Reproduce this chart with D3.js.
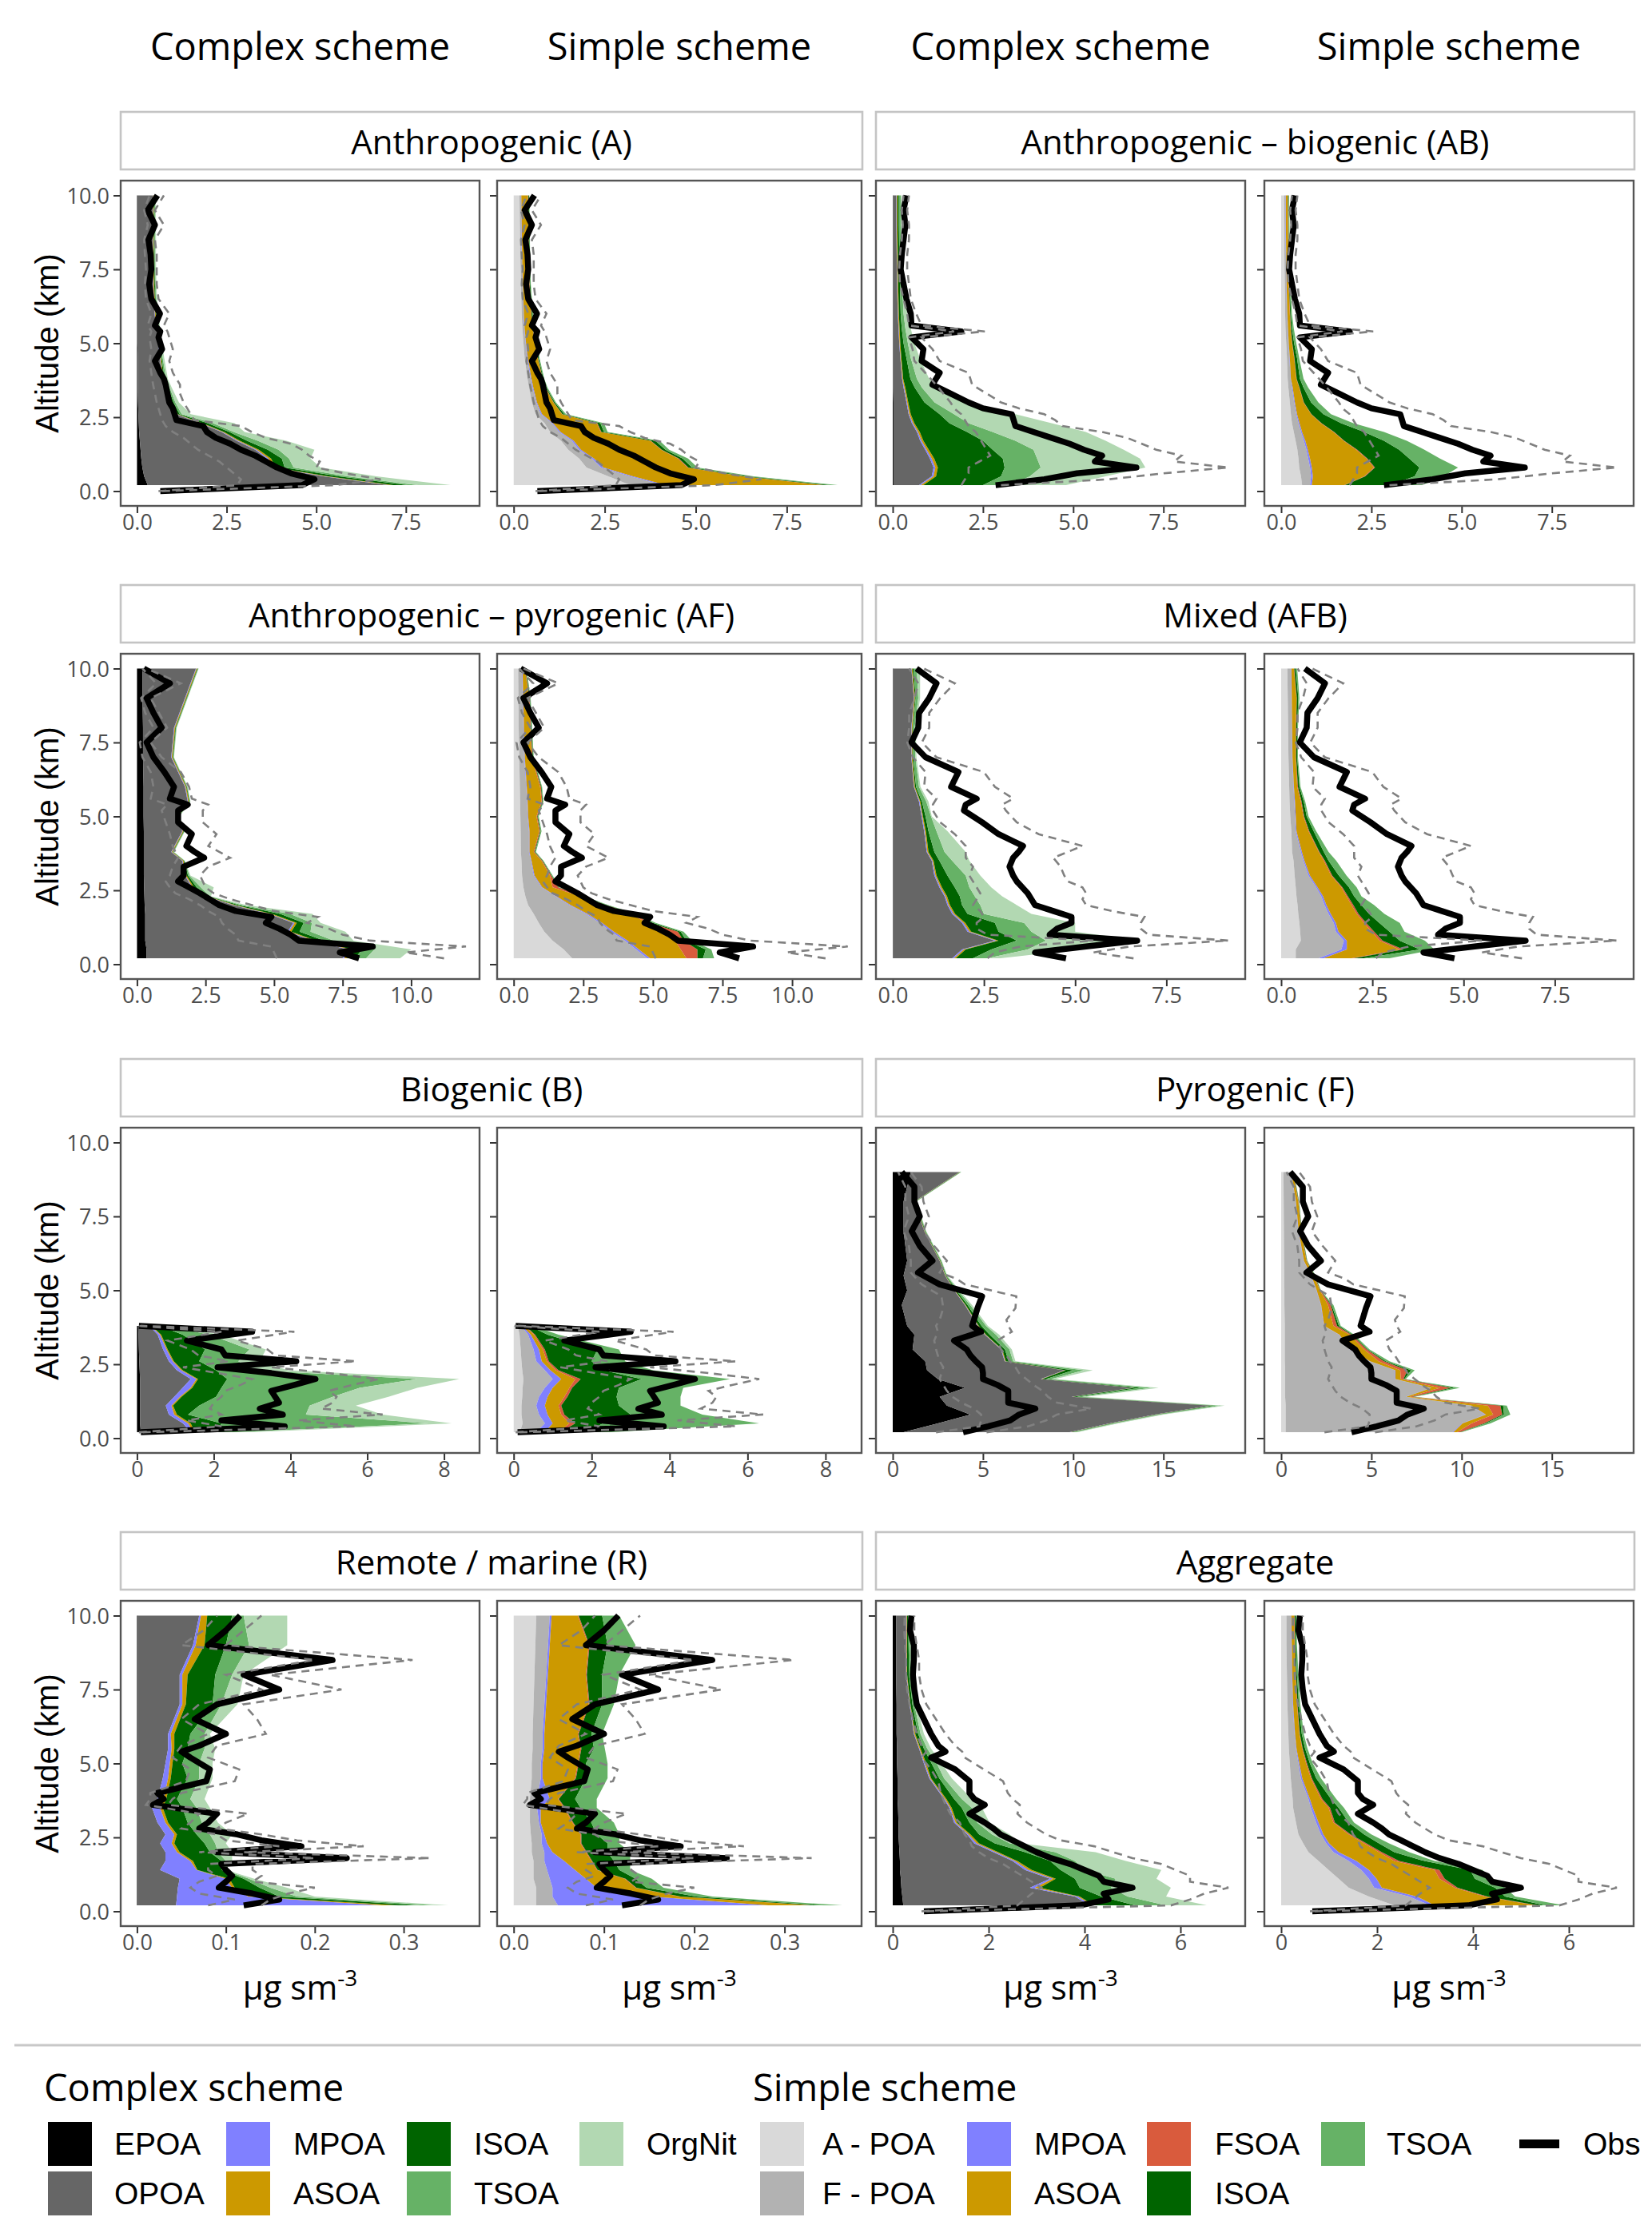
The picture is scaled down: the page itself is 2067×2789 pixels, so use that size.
<!DOCTYPE html>
<html>
<head>
<meta charset="utf-8">
<script src="https://cdn.jsdelivr.net/npm/d3@7"></script>
<style>
  body { margin: 0; background: #fff; }
  svg text { font-family: "Open Sans", "Noto Sans", sans-serif; }
</style>
</head>
<body>
<svg id="chart" width="2067" height="2789"></svg>
<script>
// Perfiles verticales de AOS: esquema complejo vs. simple, por tipo de campaña

// Niveles de altitud (km) del modelo y de las observaciones
const ALT_MODEL = [0.2, 0.5, 0.8, 1.1, 1.4, 1.7, 2.0, 2.3, 2.6, 3.0, 3.5, 3.8, 4.5, 5.0, 5.5, 6.0, 7.0, 8.0, 9.0, 10.0];
const ALT_OBS = [0.0, 0.2, 0.4, 0.6, 0.8, 1.0, 1.2, 1.4, 1.6, 1.8, 2.0, 2.2, 2.4, 2.6, 2.8, 3.0, 3.3, 3.6, 3.8, 4.0,
  4.4, 4.8, 5.2, 5.4, 5.6, 6.0, 6.5, 7.0, 7.5, 8.0, 8.5, 9.0, 9.5, 10.0];

const COMPLEX_KEYS = ["EPOA", "OPOA", "MPOA", "ASOA", "ISOA", "TSOA", "OrgNit"];
const SIMPLE_KEYS = ["A - POA", "F - POA", "MPOA", "ASOA", "FSOA", "ISOA", "TSOA"];
const COMPLEX_COLORS = ["#000000", "#666666", "#8080ff", "#cc9900", "#006400", "#66b266", "#b2d8b2"];
const SIMPLE_COLORS = ["#d9d9d9", "#b2b2b2", "#8080ff", "#cc9900", "#d95b3d", "#006400", "#66b266"];

// Filas = niveles de ALT_MODEL, columnas = componentes (µg sm-3)
const A_COMPLEX = [
  [.3, 6.7, .05, .1, .4, .3, .9], [.2, 5.0, .05, .08, .3, .25, .8], [.15, 3.6, .05, .07, .25, .25, .75],
  [.12, 3.5, .05, .07, .3, .2, .6], [.1, 3.2, .04, .06, .25, .3, 1.0], [.08, 2.7, .04, .05, .2, .3, .8],
  [.06, 2.3, .03, .04, .15, .12, .3], [.05, 1.7, .03, .04, .15, .15, .6], [.04, 1.05, .02, .03, .05, .06, .25],
  [.03, .9, .02, .03, .04, .05, .1], [.02, .78, .02, .02, .03, .04, .06], [.02, .68, .02, .02, .03, .04, .05],
  [.02, .62, .01, .02, .02, .03, .04], [.01, .58, .01, .02, .02, .03, .03], [.01, .53, .01, .02, .02, .03, .03],
  [.01, .48, .01, .02, .02, .02, .03], [.01, .44, .01, .02, .02, .02, .02], [.01, .43, .01, .02, .02, .02, .02],
  [.01, .43, .01, .02, .02, .02, .02], [.01, .43, .01, .02, .01, .02, .02]
];
const A_SIMPLE = [
  [3.2, .9, .1, 4.3, .05, .15, .2], [2.6, .6, .08, 3.0, .04, .12, .15], [2.0, .4, .07, 2.3, .03, .1, .15],
  [1.8, .35, .06, 2.3, .03, .1, .15], [1.5, .3, .05, 2.2, .02, .1, .1], [1.3, .3, .05, 2.1, .02, .12, .12],
  [1.0, .25, .04, 1.1, .02, .07, .1], [.85, .2, .03, 1.2, .02, .08, .1], [.6, .15, .03, .55, .01, .05, .05],
  [.5, .12, .02, .45, .01, .03, .03], [.42, .1, .02, .33, .01, .02, .03], [.38, .09, .02, .3, .01, .02, .02],
  [.3, .07, .02, .27, .01, .02, .02], [.27, .06, .01, .25, .01, .02, .02], [.24, .05, .01, .22, .01, .02, .02],
  [.22, .05, .01, .2, .01, .02, .02], [.2, .04, .01, .18, .01, .02, .01], [.18, .04, .01, .18, .01, .02, .01],
  [.17, .04, .01, .18, .01, .02, .01], [.16, .04, .01, .18, .01, .02, .01]
];
const A_OBS = [0.65, 4.6, 4.95, 4.3, 3.9, 3.6, 3.3, 2.9, 2.6, 2.2, 1.95, 1.85, 1.1, 1.05, 1.0, 0.9, 0.85, 0.8, 0.75,
  0.65, 0.5, 0.7, 0.6, 0.65, 0.5, 0.64, 0.4, 0.34, 0.4, 0.38, 0.32, 0.5, 0.3, 0.57];
const A_OBS_HI = [0.7, 5.5, 6.8, 5.8, 5.0, 5.1, 4.8, 4.6, 4.3, 3.6, 3.2, 2.9, 1.6, 1.5, 1.4, 1.3, 1.2, 1.2, 1.1,
  1.0, 0.9, 1.0, 0.9, 0.85, 0.75, 0.9, 0.6, 0.55, 0.55, 0.55, 0.5, 0.75, 0.5, 0.75];
const A_OBS_LO = [0.6, 2.8, 2.9, 2.7, 2.5, 2.3, 2.0, 1.7, 1.5, 1.3, 1.0, 0.8, 0.7, 0.65, 0.6, 0.55, 0.5, 0.45, 0.42,
  0.4, 0.35, 0.4, 0.35, 0.4, 0.3, 0.4, 0.25, 0.22, 0.25, 0.22, 0.2, 0.3, 0.2, 0.35];

const AB_COMPLEX = [
  [.02, .71, .05, .07, 1.65, .75, 1.55], [.02, 1.06, .05, .07, 1.8, .8, 2.1], [.02, 1.11, .05, .07, 1.85, 1.0, 2.9],
  [.02, 1.01, .05, .07, 1.9, .95, 2.85], [.02, .88, .04, .06, 1.77, 1.13, 2.5], [.02, .74, .04, .05, 1.65, .9, 2.5],
  [.02, .65, .03, .05, 1.31, .71, 2.58], [.02, .51, .03, .04, .97, .53, 2.3], [.02, .42, .02, .04, .8, .4, 1.7],
  [.02, .36, .02, .03, .45, .28, .95], [.01, .29, .02, .03, .26, .2, .5], [.01, .25, .01, .02, .2, .18, .34],
  [.01, .2, .01, .02, .14, .12, .25], [.01, .17, .01, .02, .09, .12, .18], [.01, .15, .01, .02, .06, .1, .15],
  [.01, .13, .01, .02, .05, .08, .1], [.01, .11, .01, .02, .05, .06, .06], [.01, .1, .01, .02, .04, .06, .04],
  [.01, .09, .01, .02, .04, .05, .04], [.01, .09, .01, .02, .04, .05, .03]
];
const AB_SIMPLE = [
  [.58, .22, .05, .9, .02, 1.23, .9], [.55, .28, .05, 1.42, .03, 1.37, .8], [.5, .3, .05, 1.72, .03, 1.23, 1.07],
  [.48, .27, .05, 1.56, .03, 1.16, .85], [.45, .25, .04, 1.34, .03, 1.16, .7], [.4, .23, .04, 1.06, .02, 1.1, .63],
  [.35, .2, .03, .87, .02, .83, .55], [.3, .18, .03, .59, .02, .54, .34], [.27, .15, .02, .39, .01, .33, .21],
  [.24, .12, .02, .24, .01, .2, .2], [.2, .1, .02, .18, .01, .11, .13], [.18, .08, .01, .15, .01, .09, .1],
  [.16, .07, .01, .12, .01, .07, .06], [.14, .06, .01, .09, .01, .05, .06], [.12, .06, .01, .07, .01, .03, .05],
  [.11, .05, .01, .07, .01, .02, .03], [.1, .04, .01, .06, .01, .02, .02], [.09, .04, .01, .06, .01, .01, .02],
  [.09, .03, .01, .06, .01, .01, .02], [.08, .04, .01, .05, .01, .01, .02]
];
const AB_OBS = [null, 2.85, 4.2, 5.1, 6.75, 5.6, 5.8, 5.3, 4.9, 4.4, 3.9, 3.4, 3.35, 3.3, 2.5, 2.1, 1.6, 1.1, 1.2,
  1.3, 0.8, 0.85, 0.52, 1.9, 0.52, 0.5, 0.38, 0.3, 0.22, 0.25, 0.3, 0.35, 0.3, 0.38];
const AB_OBS_HI = [null, 3.0, 6.0, 7.5, 9.3, 7.8, 8.0, 7.3, 6.9, 6.5, 5.8, 4.7, 4.5, 4.2, 3.5, 3.0, 2.6, 2.2, 2.15,
  2.1, 1.3, 1.1, 0.8, 2.55, 0.8, 0.65, 0.5, 0.45, 0.4, 0.4, 0.45, 0.45, 0.4, 0.45];
const AB_OBS_LO = [null, 1.9, 2.0, 2.1, 2.1, 2.4, 2.7, 2.6, 2.5, 2.4, 2.3, 2.1, 2.0, 1.9, 1.7, 1.6, 1.4, 1.2, 1.05,
  0.9, 0.6, 0.55, 0.45, 1.7, 0.45, 0.4, 0.3, 0.2, 0.18, 0.2, 0.25, 0.28, 0.25, 0.3];

const AF_COMPLEX = [
  [.35, 7.15, .06, .1, .3, .4, 1.24], [.35, 7.35, .06, .1, .35, .45, 1.34], [.3, 6.1, .05, .08, .3, .35, .72],
  [.3, 5.2, .05, .08, .3, .4, 1.27], [.3, 5.4, .05, .08, .25, .3, .32], [.3, 4.5, .05, .08, .3, .35, .82],
  [.28, 3.22, .04, .06, .12, .12, .16], [.27, 2.23, .03, .04, .04, .05, .04], [.26, 1.74, .03, .05, .1, .15, .47],
  [.25, 1.5, .02, .04, .05, .05, .04], [.25, 1.4, .02, .03, .02, .02, .01], [.25, 1.0, .02, .03, .02, .02, .01],
  [.25, 1.4, .02, .03, .02, .02, .01], [.24, 1.21, .02, .03, .02, .02, .01], [.24, 1.61, .02, .03, .02, .02, .01],
  [.24, 1.51, .02, .03, .02, .02, .01], [.22, 1.03, .02, .03, .02, .02, .01], [.22, 1.13, .02, .03, .02, .02, .01],
  [.2, 1.55, .02, .03, .02, .02, .01], [.2, 1.95, .02, .03, .02, .02, .01]
];
const AF_SIMPLE = [
  [2.1, 2.7, .1, 1.3, .4, .2, .4], [1.8, 2.6, .1, 1.5, .6, .3, .2], [1.4, 2.6, .1, 1.7, .3, .1, .2],
  [1.1, 2.4, .1, 1.8, .5, .1, .1], [.9, 2.2, .08, 1.62, .1, .1, .1], [.72, 1.88, .06, 1.54, .1, .05, .05],
  [.52, 1.48, .05, 1.15, .1, .05, .05], [.42, 1.08, .04, .86, .05, .05, .05], [.35, .65, .03, .37, .2, .02, .03],
  [.3, .42, .03, .55, .05, .02, .03], [.28, .34, .02, .36, .03, .02, .02], [.26, .29, .02, .15, .03, .02, .03],
  [.25, .3, .02, .35, .03, .02, .03], [.24, .26, .02, .3, .03, .02, .03], [.23, .25, .02, .5, .03, .02, .02],
  [.22, .23, .02, .48, .03, .02, .02], [.2, .18, .02, .25, .03, .02, .02], [.18, .17, .02, .23, .02, .02, .02],
  [.17, .15, .02, .21, .02, .02, .02], [.16, .14, .02, .08, .02, .02, .02]
];
const AF_OBS = [null, 8.1, 7.4, 8.6, 5.9, 5.6, 5.2, 4.7, 4.9, 3.6, 3.0, 2.65, 2.3, 1.9, 1.5, 1.7, 1.7, 2.45, 2.1,
  1.8, 2.0, 1.5, 1.5, 1.85, 1.2, 1.35, 1.0, 0.6, 0.35, 0.9, 0.6, 0.35, 1.2, 0.25];
const AF_OBS_HI = [null, 11.2, 9.8, 12.0, 8.5, 7.5, 7.0, 6.2, 6.6, 5.0, 4.2, 3.4, 2.8, 2.5, 2.4, 2.3, 2.6, 3.4, 3.0,
  2.6, 2.9, 2.4, 2.4, 2.6, 2.0, 1.9, 1.6, 0.9, 0.5, 1.1, 0.8, 0.5, 1.6, 0.35];
const AF_OBS_LO = [null, 5.1, 5.0, 4.9, 3.7, 3.6, 3.3, 3.1, 3.0, 2.6, 2.3, 1.9, 1.4, 1.2, 1.05, 1.2, 1.3, 1.5, 1.4,
  1.3, 1.2, 1.05, 0.9, 1.1, 0.5, 0.6, 0.5, 0.2, 0.1, 0.6, 0.3, 0.15, 0.7, 0.2];

const AFB_COMPLEX = [
  [.01, 1.62, .05, .05, .47, .4, .35], [.01, 1.89, .05, .05, .7, 1.0, 1.4], [.01, 2.79, .05, .05, .5, .8, 2.6],
  [.01, 2.04, .05, .05, .75, .9, 1.2], [.01, 1.89, .04, .05, .81, .8, 1.4], [.01, 1.62, .04, .04, .34, .45, 1.3],
  [.01, 1.49, .03, .04, .33, .5, 1.0], [.01, 1.41, .03, .04, .35, .41, .75], [.01, 1.27, .03, .04, .35, .4, .6],
  [.01, 1.13, .03, .03, .3, .5, .4], [.01, 1.06, .02, .03, .16, .35, .47], [.01, .92, .02, .03, .16, .28, .58],
  [.01, .85, .02, .03, .07, .22, .3], [.01, .78, .02, .02, .07, .15, .02], [.01, .71, .02, .02, .04, .12, .06],
  [.01, .57, .01, .02, .03, .08, .04], [.01, .5, .01, .02, .02, .06, .03], [.01, .5, .01, .02, .01, .05, .03],
  [.01, .57, .01, .02, .02, .07, .05], [.01, .5, .01, .02, .03, .09, .09]
];
const AFB_SIMPLE = [
  [.4, .63, .14, .76, .07, .27, .7], [.4, 1.25, .15, 1.45, .1, .45, .4], [.54, 1.18, .08, .9, .08, .47, .69],
  [.52, .98, .07, .91, .07, .42, .41], [.5, .94, .06, .77, .06, .36, .56], [.47, .83, .06, .71, .05, .29, .42],
  [.45, .74, .05, .69, .05, .22, .35], [.42, .68, .05, .64, .04, .17, .2], [.4, .56, .04, .65, .03, .18, .21],
  [.37, .38, .04, .58, .03, .18, .21], [.34, .27, .03, .53, .03, .1, .21], [.3, .24, .03, .46, .02, .12, .13],
  [.28, .12, .02, .33, .02, .12, .07], [.25, .13, .02, .21, .02, .07, .05], [.23, .13, .02, .16, .02, .06, .04],
  [.22, .12, .01, .09, .02, .04, .03], [.2, .1, .01, .09, .01, .03, .02], [.19, .1, .01, .1, .01, .03, .02],
  [.18, .1, .01, .13, .01, .04, .03], [.17, .1, .01, .07, .01, .04, .04]
];
const AFB_OBS = [null, 4.75, 3.9, 5.3, 6.7, 4.3, 4.5, 4.9, 4.9, 4.4, 3.9, 3.8, 3.7, 3.55, 3.4, 3.3, 3.2, 3.3, 3.45,
  3.57, 2.9, 2.45, 1.95, 2.0, 2.3, 1.6, 1.8, 0.9, 0.51, 0.7, 0.72, 1.0, 1.2, 0.65];
const AFB_OBS_HI = [null, 6.6, 5.5, 6.5, 9.2, 7.0, 6.8, 6.8, 6.9, 6.0, 5.3, 5.2, 5.3, 5.2, 4.8, 4.7, 4.6, 4.4, 4.8,
  5.2, 4.0, 3.4, 3.1, 3.0, 3.3, 2.8, 2.5, 1.2, 0.8, 1.0, 1.0, 1.3, 1.7, 0.85];
const AFB_OBS_LO = [null, 2.6, 2.8, 3.5, 5.5, 2.6, 2.3, 2.3, 2.5, 2.4, 2.2, 2.3, 2.4, 2.3, 2.2, 2.1, 2.2, 2.0, 2.0,
  2.0, 1.7, 1.3, 1.1, 1.1, 1.2, 0.86, 0.9, 0.55, 0.4, 0.45, 0.45, 0.6, 0.7, 0.45];

const B_COMPLEX = [
  [.1, 1.3, .08, .03, .59, .5, .4], [.08, 1.12, .13, .07, .8, 5.4, .6], [.08, .75, .14, .07, .29, 3.07, 2.0],
  [.08, .67, .15, .04, .68, 2.88, 1.2], [.08, .89, .15, .04, .9, 3.04, 1.45], [.08, 1.11, .21, .04, .76, 3.6, 1.5],
  [.08, 1.32, .15, .04, .76, 4.95, 1.1], [.07, .97, .11, .04, .87, 1.01, .87], [.06, .77, .1, .03, .66, 1.02, .56],
  [.05, .63, .09, .03, .97, 1.16, .43], [.04, .5, .06, .03, .56, .71, .3], [.03, .29, .04, .02, .22, .15, .05],
  null, null, null, null, null, null, null, null
];
const B_SIMPLE = [
  [.16, .42, .22, .35, .05, .66, .64], [.23, .57, .2, .43, .15, .71, 4.01], [.2, .45, .22, .35, .08, 1.7, 1.84],
  [.2, .38, .22, .35, .07, 1.48, 1.58], [.22, .43, .22, .43, .08, 1.26, 1.64], [.23, .57, .2, .43, .07, 1.2, 1.65],
  [.25, .75, .22, .36, .14, 1.56, 2.27], [.22, .58, .14, .14, .07, 1.14, 1.28], [.2, .38, .14, .13, .05, 1.1, .86],
  [.18, .33, .14, .1, .05, 1.35, .55], [.15, .22, .07, .08, .03, .32, .28], [.1, .1, .02, .06, .02, .1, .1],
  null, null, null, null, null, null, null, null
];
const B_OBS = [null, 0.1, 3.85, 2.2, 3.8, 3.2, 3.7, 3.6, 3.5, 4.1, 4.65, 3.5, 2.1, 4.15, 2.3, 2.2, 1.3, 3.0, 0.05,
  null, null, null, null, null, null, null, null, null, null, null, null, null, null, null];
const B_OBS_HI = [null, 0.15, 5.7, 4.2, 6.4, 4.8, 5.1, 5.2, 5.0, 5.6, 6.3, 5.0, 3.5, 5.7, 3.6, 3.4, 2.6, 4.1, 0.1,
  null, null, null, null, null, null, null, null, null, null, null, null, null, null, null];
const B_OBS_LO = [null, 0.05, 2.2, 1.3, 2.2, 1.9, 2.0, 2.2, 2.3, 2.7, 3.0, 2.1, 1.2, 2.4, 1.6, 1.4, 0.8, 2.2, 0.02,
  null, null, null, null, null, null, null, null, null, null, null, null, null, null, null];

const F_COMPLEX = [
  [.6, 9.2, .05, .05, .1, .15, .1], [2.5, 9.5, .05, .05, .1, .15, .15], [4.3, 10.2, .05, .05, .1, .15, .15],
  [3.0, 14.6, .05, .05, .2, .3, .2], [2.6, 7.3, .04, .05, .2, .3, .25], [4.0, 9.3, .04, .05, .35, .6, .4],
  [2.5, 5.7, .04, .05, .2, .3, .2], [1.9, 7.6, .04, .05, .4, .6, .5], [1.8, 4.4, .03, .04, .15, .25, .13],
  [1.1, 4.9, .03, .04, .15, .25, .13], [1.2, 3.9, .03, .04, .2, .35, .18], [.8, 3.9, .03, .04, .15, .25, .1],
  [.5, 3.5, .02, .03, .1, .15, .1], [.8, 2.6, .02, .03, .07, .1, .08], [.6, 2.3, .01, .02, .03, .04, .02],
  [.8, 1.8, .01, .02, .03, .04, .02], [.6, 1.15, .01, .02, .03, .03, .02], [.6, .6, .01, .02, .03, .03, .01],
  [1.0, 2.7, .01, .02, .03, .03, .01], null
];
const F_SIMPLE = [
  [.25, 9.25, .05, .2, .15, .05, .05], [.25, 9.75, .05, .5, .7, .1, .25], [.25, 11.05, .05, .4, .5, .1, .35],
  [.25, 10.25, .05, .9, .7, .15, .2], [.22, 6.68, .03, .2, .15, .05, .07], [.22, 8.08, .03, .47, .6, .2, .3],
  [.22, 6.08, .03, .3, .15, .05, .07], [.22, 6.08, .03, .27, .4, .2, .2], [.2, 4.7, .03, .47, .3, .1, .2],
  [.2, 3.6, .03, .77, .15, .05, .1], [.2, 3.0, .03, .57, .1, .05, .1], [.2, 2.16, .03, .51, .2, .1, .1],
  [.18, 2.02, .02, .38, .15, .05, .1], [.18, 1.77, .02, .18, .02, .02, .01], [.17, 1.48, .02, .13, .04, .03, .03],
  [.16, 1.08, .02, .14, .02, .02, .01], [.15, .8, .02, .13, .02, .02, .01], [.14, .66, .02, .13, .02, .02, .01],
  [.13, .42, .01, .09, .02, .02, .01], null
];
const F_OBS = [null, 3.9, 5.3, 6.5, 7.0, 7.9, 6.4, 6.4, 6.4, 5.8, 5.0, 5.0, 4.95, 4.6, 4.3, 4.1, 3.4, 4.9, 4.4,
  4.5, 4.7, 4.95, 2.6, 2.0, 1.4, 2.2, 1.5, 1.05, 1.5, 1.2, 1.2, 0.5, null, null];
const F_OBS_HI = [null, 5.2, 7.5, 8.5, 9.1, 11.0, 9.1, 8.6, 8.3, 7.8, 7.4, 7.0, 6.8, 6.5, 6.3, 6.0, 5.8, 6.6, 6.4,
  6.3, 6.8, 6.85, 4.0, 3.5, 2.6, 3.0, 2.3, 1.7, 2.0, 1.7, 1.6, 1.0, null, null];
const F_OBS_LO = [null, 2.4, 4.8, 4.9, 4.9, 4.5, 3.8, 3.3, 3.0, 2.8, 2.6, 2.7, 2.8, 2.6, 2.5, 2.4, 2.3, 2.5, 2.4,
  2.6, 2.8, 2.7, 1.6, 1.3, 1.0, 1.0, 0.9, 0.6, 0.9, 0.7, 0.7, 0.3, null, null];

const R_COMPLEX = [
  [.001, .043, .231, .019, .025, .018, .013], [.001, .044, .08, .005, .03, .02, .02],
  [.001, .045, .061, .003, .028, .012, .019], [.001, .047, .052, .004, .016, .006, .006],
  [.001, .025, .041, .001, .027, .003, .002], [.001, .031, .028, .003, .032, .005, .007],
  [.001, .031, .013, .003, .034, .009, .016], [.001, .025, .013, .003, .034, .012, .012],
  [.001, .031, .01, .003, .022, .015, .025], [.001, .022, .009, .003, .022, .016, .018],
  [.001, .016, .009, .003, .022, .016, .015], [.001, .022, .007, .003, .012, .015, .016],
  [.001, .028, .006, .003, .019, .013, .015], [.001, .031, .005, .003, .011, .019, .015],
  [.001, .034, .004, .003, .015, .019, .012], [.001, .034, .003, .004, .018, .016, .006],
  [.001, .047, .003, .004, .03, .01, .018], [.001, .047, .003, .006, .031, .019, .013],
  [.001, .062, .003, .01, .024, .026, .043], [.001, .069, .002, .007, .028, .013, .049]
];
const R_SIMPLE = [
  [.025, .024, .233, .048, .002, .011, .021], [.025, .018, .11, .031, .001, .017, .018],
  [.025, .018, .049, .043, .001, .011, .019], [.022, .018, .04, .043, .001, .011, .018],
  [.022, .015, .031, .024, .001, .024, .012], [.022, .012, .022, .03, .001, .024, .018],
  [.02, .014, .009, .037, .001, .023, .025], [.02, .011, .006, .037, .001, .029, .013],
  [.019, .012, .003, .04, .001, .017, .025], [.018, .01, .002, .035, .001, .02, .025],
  [.018, .008, .004, .026, .001, .017, .018], [.018, .008, .014, .009, .001, .018, .024],
  [.02, .01, .002, .036, .001, .011, .024], [.02, .01, .002, .039, .001, .008, .024],
  [.021, .011, .002, .04, .001, .014, .012], [.021, .011, .002, .037, .001, .014, .012],
  [.022, .012, .002, .047, .001, .014, .013], [.023, .013, .002, .042, .001, .017, .019],
  [.024, .014, .002, .043, .001, .02, .031], [.025, .015, .002, .029, .001, .026, .019]
];
const R_OBS = [null, 0.12, 0.16, 0.13, 0.092, 0.1, 0.107, 0.1, 0.095, 0.236, 0.09, 0.185, 0.14, 0.113, 0.07, 0.08,
  0.09, 0.018, 0.03, 0.023, 0.078, 0.082, 0.06, 0.05, 0.07, 0.1, 0.065, 0.09, 0.16, 0.12, 0.22, 0.08, 0.1, 0.116];
const R_OBS_HI = [null, 0.14, 0.15, 0.17, 0.2, 0.13, 0.14, 0.13, 0.13, 0.33, 0.12, 0.255, 0.18, 0.14, 0.09, 0.1,
  0.125, 0.035, 0.04, 0.05, 0.11, 0.115, 0.08, 0.085, 0.09, 0.145, 0.135, 0.12, 0.23, 0.15, 0.31, 0.1, 0.12, 0.14];
const R_OBS_LO = [null, 0.08, 0.11, 0.07, 0.06, 0.07, 0.09, 0.08, 0.08, 0.2, 0.07, 0.16, 0.1, 0.09, 0.05, 0.06,
  0.07, 0.01, 0.015, 0.015, 0.055, 0.06, 0.04, 0.045, 0.05, 0.08, 0.05, 0.07, 0.14, 0.1, 0.2, 0.05, 0.075, 0.09];

const AGG_COMPLEX = [
  [.22, 3.88, .06, .04, .85, .65, .85], [.2, 3.6, .06, .04, .45, .55, .8], [.18, 2.68, .1, .11, .83, .65, 1.25],
  [.17, 3.11, .06, .06, .4, .85, .85], [.15, 2.61, .07, .07, .6, .5, 1.6], [.15, 2.35, .05, .05, .68, .52, 1.06],
  [.14, 1.96, .05, .05, .56, .63, .84], [.13, 1.57, .05, .05, .33, .31, .21], [.12, 1.43, .03, .04, .18, .27, .37],
  [.12, 1.16, .03, .03, .26, .16, .26], [.11, 1.07, .02, .03, .21, .21, .21], [.1, .97, .02, .03, .16, .16, .21],
  [.1, .66, .02, .02, .17, .1, .16], [.09, .56, .02, .03, .11, .11, .1], [.09, .46, .01, .02, .07, .07, .08],
  [.08, .36, .01, .02, .06, .05, .07], [.08, .27, .01, .01, .04, .04, .04], [.07, .21, .01, .01, .04, .04, .04],
  [.07, .21, .01, .01, .03, .03, .04], [.07, .21, .01, .01, .02, .02, .03]
];
const AGG_SIMPLE = [
  [2.36, .74, .1, 2.1, .05, .15, .4], [1.83, .84, .16, 1.42, .05, .37, .21], [1.41, .53, .16, 1.52, .06, .78, .21],
  [1.2, .63, .16, 1.31, .11, .63, .32], [.99, .68, .16, 1.37, .1, .64, .26], [.78, .63, .16, .79, .1, .53, .21],
  [.57, .52, .11, .84, .06, .26, .31], [.46, .48, .06, .73, .05, .26, .21], [.36, .47, .05, .53, .04, .28, .15],
  [.31, .42, .05, .31, .03, .29, .11], [.25, .37, .04, .33, .03, .18, .11], [.24, .33, .03, .23, .03, .18, .11],
  [.2, .21, .03, .18, .02, .09, .1], [.18, .18, .02, .14, .02, .06, .06], [.16, .15, .01, .12, .01, .05, .05],
  [.15, .13, .01, .09, .01, .04, .04], [.13, .11, .01, .08, .01, .03, .03], [.12, .1, .01, .07, .01, .02, .03],
  [.11, .1, .01, .06, .01, .02, .02], [.11, .09, .01, .06, .01, .02, .02]
];
const AGG_OBS = [0.65, 3.9, 4.5, 4.4, 5.0, 4.4, 4.3, 4.0, 3.7, 3.3, 3.0, 2.75, 2.5, 2.25, 2.1, 1.92, 1.6, 1.92, 1.7,
  1.6, 1.6, 1.3, 0.8, 1.1, 0.95, 0.8, 0.65, 0.5, 0.45, 0.42, 0.44, 0.44, 0.36, 0.39];
const AGG_OBS_HI = [0.7, 5.8, 6.2, 6.5, 7.0, 6.2, 6.2, 5.9, 5.6, 5.0, 4.6, 4.2, 3.5, 3.2, 3.0, 2.8, 2.6, 2.65, 2.5,
  2.4, 2.3, 1.9, 1.5, 1.45, 1.3, 1.1, 0.9, 0.7, 0.6, 0.55, 0.55, 0.5, 0.45, 0.45];
const AGG_OBS_LO = [0.6, 2.6, 2.75, 2.9, 3.1, 2.9, 2.7, 2.5, 2.3, 2.0, 1.8, 1.65, 1.6, 1.5, 1.45, 1.4, 1.2, 1.1, 1.05,
  1.0, 0.95, 0.8, 0.6, 0.7, 0.6, 0.5, 0.42, 0.35, 0.3, 0.28, 0.28, 0.26, 0.24, 0.25];

// Títulos, escalas X y marcas por campaña
const CAMPAIGN_NAMES = ["Anthropogenic (A)", "Anthropogenic \u2013 biogenic (AB)", "Anthropogenic \u2013 pyrogenic (AF)",
  "Mixed (AFB)", "Biogenic (B)", "Pyrogenic (F)", "Remote / marine (R)", "Aggregate"];
const X_MAX = [9.1, 9.3, 11.9, 9.2, 8.5, 18.6, 0.367, 7.0];
const X_TICKS = [[0, 2.5, 5, 7.5], [0, 2.5, 5, 7.5], [0, 2.5, 5, 7.5, 10], [0, 2.5, 5, 7.5],
  [0, 2, 4, 6, 8], [0, 5, 10, 15], [0, 0.1, 0.2, 0.3], [0, 2, 4, 6]];
const X_FORMATS = [".1f", ".1f", ".1f", ".1f", "d", "d", ".1f", "d"];
const Y_TICKS = [0, 2.5, 5, 7.5, 10];

const COMPLEX_DATA = [A_COMPLEX, AB_COMPLEX, AF_COMPLEX, AFB_COMPLEX, B_COMPLEX, F_COMPLEX, R_COMPLEX, AGG_COMPLEX];
const SIMPLE_DATA = [A_SIMPLE, AB_SIMPLE, AF_SIMPLE, AFB_SIMPLE, B_SIMPLE, F_SIMPLE, R_SIMPLE, AGG_SIMPLE];
const OBS_DATA = [A_OBS, AB_OBS, AF_OBS, AFB_OBS, B_OBS, F_OBS, R_OBS, AGG_OBS];
const OBS_HI_DATA = [A_OBS_HI, AB_OBS_HI, AF_OBS_HI, AFB_OBS_HI, B_OBS_HI, F_OBS_HI, R_OBS_HI, AGG_OBS_HI];
const OBS_LO_DATA = [A_OBS_LO, AB_OBS_LO, AF_OBS_LO, AFB_OBS_LO, B_OBS_LO, F_OBS_LO, R_OBS_LO, AGG_OBS_LO];

// Geometría
const PANEL_X = [[151, 600], [622, 1078], [1096, 1558], [1582, 2044]];
const ROW_TOP = [226, 818, 1411, 2003];
const PANEL_H = 407;
const TICK_COLOR = "#4d4d4d";

const svg = d3.select("#chart");
svg.append("rect").attr("width", 2067).attr("height", 2789).attr("fill", "#fff");

// Cabeceras de columna
["Complex scheme", "Simple scheme", "Complex scheme", "Simple scheme"].forEach((t, i) => {
  svg.append("text")
    .attr("x", (PANEL_X[i][0] + PANEL_X[i][1]) / 2)
    .attr("y", 57)
    .attr("text-anchor", "middle")
    .attr("dominant-baseline", "central")
    .style("font-size", "47px")
    .attr("fill", "#000")
    .text(t);
});

function drawPanel(c, col, row, schemeRows, keys, colors) {
  const x0 = PANEL_X[col][0], x1 = PANEL_X[col][1];
  const top = ROW_TOP[row], bottom = top + PANEL_H;
  const xMax = X_MAX[c];

  const x = d3.scaleLinear().domain([-0.05 * xMax, 1.05 * xMax]).range([x0, x1]);
  const y = d3.scaleLinear().domain([-0.5, 10.5]).range([bottom, top]);

  const g = svg.append("g");
  const clipId = "clip-" + c + "-" + col;
  g.append("clipPath").attr("id", clipId)
    .append("rect").attr("x", x0).attr("y", top).attr("width", x1 - x0).attr("height", PANEL_H);

  const plot = g.append("g").attr("clip-path", "url(#" + clipId + ")");

  // Áreas apiladas de los componentes del modelo
  const rows = ALT_MODEL.map((a, i) => ({ alt: a, v: schemeRows[i] })).filter(r => r.v != null);
  const stack = d3.stack().keys(d3.range(keys.length)).value((d, k) => d.v[k]);
  const series = stack(rows);
  const area = d3.area()
    .y(d => y(d.data.alt))
    .x0(d => x(d[0]))
    .x1(d => x(d[1]));

  plot.selectAll(".layer")
    .data(series)
    .enter().append("path")
    .attr("class", "layer")
    .attr("d", area)
    .attr("fill", (d, i) => colors[i]);

  // Observaciones: línea media y percentiles discontinuos
  const line = d3.line()
    .defined(d => d[1] != null)
    .x(d => x(d[1]))
    .y(d => y(d[0]));

  const obs = ALT_OBS.map((a, i) => [a, OBS_DATA[c][i]]);
  plot.append("path")
    .attr("d", line(obs))
    .attr("fill", "none")
    .attr("stroke", "#000")
    .attr("stroke-width", 7.5)
    .attr("stroke-linejoin", "round");

  [OBS_HI_DATA[c], OBS_LO_DATA[c]].forEach(arr => {
    plot.append("path")
      .attr("d", line(ALT_OBS.map((a, i) => [a, arr[i]])))
      .attr("fill", "none")
      .attr("stroke", "#808080")
      .attr("stroke-width", 2.6)
      .attr("stroke-dasharray", "10,7");
  });

  // Borde del panel
  g.append("rect")
    .attr("x", x0).attr("y", top)
    .attr("width", x1 - x0).attr("height", PANEL_H)
    .attr("fill", "none")
    .attr("stroke", "#555")
    .attr("stroke-width", 2.4);

  // Ejes
  const xAxis = g.append("g")
    .attr("transform", "translate(0," + (bottom + 1) + ")")
    .call(d3.axisBottom(x).tickValues(X_TICKS[c]).tickFormat(d3.format(X_FORMATS[c])).tickSize(8).tickPadding(2));
  const yAxis = g.append("g")
    .attr("transform", "translate(" + (x0 - 1) + ",0)")
    .call(d3.axisLeft(y).tickValues(Y_TICKS)
      .tickFormat(col === 0 ? d3.format(".1f") : () => "")
      .tickSize(8).tickPadding(5));

  [xAxis, yAxis].forEach(a => {
    a.select(".domain").remove();
    a.selectAll(".tick line").attr("stroke", "#333").attr("stroke-width", 2);
    a.selectAll(".tick text")
      .attr("fill", TICK_COLOR)
      .style("font-size", "27px")
      .style("font-family", "'Open Sans', sans-serif");
  });
  xAxis.selectAll(".tick text").attr("dy", "0.71em");
  yAxis.selectAll(".tick text").attr("dy", "0.36em");

  // Título del eje X solo en la última fila
  if (row === 3) {
    const t = g.append("text")
      .attr("x", (x0 + x1) / 2)
      .attr("y", 2502)
      .attr("text-anchor", "middle")
      .style("font-size", "42px")
      .attr("fill", "#000");
    t.append("tspan").text("\u00b5g sm");
    t.append("tspan").attr("dy", -17).style("font-size", "28px").text("-3");
  }
}

CAMPAIGN_NAMES.forEach((name, c) => {
  const row = Math.floor(c / 2);
  const side = c % 2; // 0 = izquierda, 1 = derecha
  const colC = side * 2, colS = side * 2 + 1;
  const top = ROW_TOP[row];

  // Tira con el nombre de la campaña
  const sx0 = PANEL_X[colC][0], sx1 = PANEL_X[colS][1] + 1;
  svg.append("rect")
    .attr("x", sx0).attr("y", top - 86)
    .attr("width", sx1 - sx0).attr("height", 72)
    .attr("fill", "#fff")
    .attr("stroke", "#c4c4c4")
    .attr("stroke-width", 2.6);
  svg.append("text")
    .attr("x", (sx0 + sx1) / 2)
    .attr("y", top - 50)
    .attr("text-anchor", "middle")
    .attr("dominant-baseline", "central")
    .style("font-size", "42px")
    .attr("fill", "#000")
    .text(name);

  drawPanel(c, colC, row, COMPLEX_DATA[c], COMPLEX_KEYS, COMPLEX_COLORS);
  drawPanel(c, colS, row, SIMPLE_DATA[c], SIMPLE_KEYS, SIMPLE_COLORS);

  if (side === 0) {
    svg.append("text")
      .attr("transform", "translate(59," + (top + PANEL_H / 2) + ") rotate(-90)")
      .attr("text-anchor", "middle")
      .attr("dominant-baseline", "central")
      .style("font-family", "'Liberation Sans', Arial, sans-serif")
      .style("font-size", "40px")
      .attr("fill", "#000")
      .text("Altitude (km)");
  }
});

// Leyenda
svg.append("line")
  .attr("x1", 18).attr("x2", 2053)
  .attr("y1", 2559).attr("y2", 2559)
  .attr("stroke", "#c8c8c8").attr("stroke-width", 3);

const KEY_SIZE = 55;
const KEY_ROW_Y = [2655, 2717];

function drawLegend(title, titleX, keyX, labelX, keys, colors) {
  svg.append("text")
    .attr("x", titleX).attr("y", 2611)
    .attr("dominant-baseline", "central")
    .style("font-size", "47px")
    .attr("fill", "#000")
    .text(title);
  keys.forEach((k, i) => {
    const col = Math.floor(i / 2), r = i % 2;
    svg.append("rect")
      .attr("x", keyX[col]).attr("y", KEY_ROW_Y[r])
      .attr("width", KEY_SIZE).attr("height", KEY_SIZE)
      .attr("fill", colors[i]);
    svg.append("text")
      .attr("x", labelX[col]).attr("y", KEY_ROW_Y[r] + KEY_SIZE / 2)
      .attr("dominant-baseline", "central")
      .style("font-family", "'Liberation Sans', Arial, sans-serif")
      .style("font-size", "39px")
      .attr("fill", "#000")
      .text(k);
  });
}

drawLegend("Complex scheme", 55, [60, 283, 509, 725], [143, 367, 593, 809], COMPLEX_KEYS, COMPLEX_COLORS);
drawLegend("Simple scheme", 942, [951, 1210, 1435, 1653], [1029, 1294, 1520, 1735], SIMPLE_KEYS, SIMPLE_COLORS);

// Clave de observaciones
svg.append("line")
  .attr("x1", 1901).attr("x2", 1951)
  .attr("y1", KEY_ROW_Y[0] + KEY_SIZE / 2).attr("y2", KEY_ROW_Y[0] + KEY_SIZE / 2)
  .attr("stroke", "#000").attr("stroke-width", 11);
svg.append("text")
  .attr("x", 1981).attr("y", KEY_ROW_Y[0] + KEY_SIZE / 2)
  .attr("dominant-baseline", "central")
  .style("font-family", "'Liberation Sans', Arial, sans-serif")
  .style("font-size", "39px")
  .attr("fill", "#000")
  .text("Obs");
</script>
</body>
</html>
